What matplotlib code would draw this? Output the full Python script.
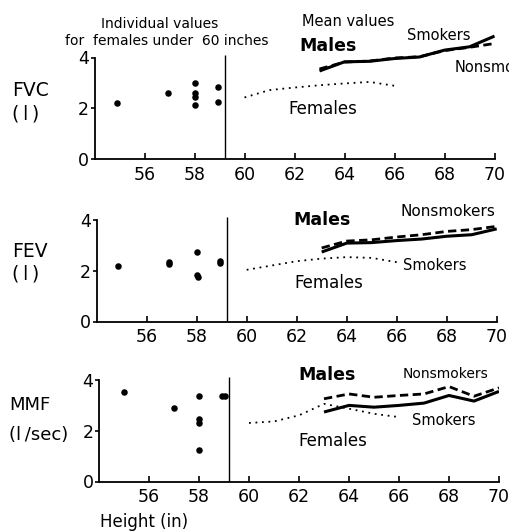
import matplotlib
matplotlib.use("Agg")
import matplotlib.pyplot as plt
from matplotlib.ticker import FixedLocator

# ---------------- data ----------------
x_ticks = [56, 58, 60, 62, 64, 66, 68, 70]
y_ticks = [0, 2, 4]
divider_x = 59.2

# individual values, females under 60 inches
fvc_ind_x = [54.9, 56.95, 58, 58, 58, 58, 58.95, 58.95]
fvc_ind_y = [2.22, 2.59, 2.98, 2.59, 2.46, 2.13, 2.85, 2.24]
fev_ind_x = [54.85, 56.9, 56.9, 58, 58, 58.05, 58.95, 58.95]
fev_ind_y = [2.2, 2.25, 2.32, 2.73, 1.82, 1.76, 2.38, 2.28]
mmf_ind_x = [55.0, 57.0, 58, 58, 58, 58, 58.93, 59.03]
mmf_ind_y = [3.51, 2.9, 3.35, 2.45, 2.3, 1.23, 3.35, 3.35]

# mean values
fem_h = [60, 61, 62, 63, 64, 65, 66]
male_h = [63, 64, 65, 66, 67, 68, 69, 70]

fvc_fem = [2.43, 2.72, 2.82, 2.91, 2.98, 3.04, 2.89]
fvc_male_smk = [3.47, 3.83, 3.85, 3.96, 4.02, 4.29, 4.42, 4.84]
fvc_male_non = [3.55, 3.82, 3.86, 3.98, 4.03, 4.27, 4.40, 4.55]

fev_fem = [2.03, 2.2, 2.37, 2.47, 2.53, 2.5, 2.33]
fev_male_smk = [2.73, 3.08, 3.1, 3.18, 3.24, 3.35, 3.41, 3.64]
fev_male_non = [2.89, 3.16, 3.21, 3.32, 3.41, 3.54, 3.61, 3.74]

mmf_fem = [2.3, 2.36, 2.6, 3.05, 2.86, 2.66, 2.53]
mmf_male_smk = [2.73, 2.99, 2.92, 2.99, 3.08, 3.38, 3.16, 3.54]
mmf_male_non = [3.25, 3.44, 3.31, 3.38, 3.44, 3.73, 3.35, 3.68]

# ---------------- figure ----------------
W, H = 509, 532
fig = plt.figure(figsize=(W / 100, H / 100), dpi=100)
fig.patch.set_facecolor("white")
plt.rcParams["font.family"] = ["DejaVu Sans"]


def fx(px):
    return px / W


def fy(py):
    return 1 - py / H


PXU = 25.45  # pixels per y unit
YTOP = 5.5


def make_ax(left_px, bottom_px):
    width_px = 400
    height_px = YTOP * PXU
    ax = fig.add_axes([fx(left_px), fy(bottom_px), width_px / W, height_px / H])
    ax.set_xlim(54.0, 70.0)
    ax.set_ylim(0, YTOP)
    ax.patch.set_alpha(0)
    for s in ("top", "right"):
        ax.spines[s].set_visible(False)
    ax.spines["left"].set_bounds(0, 4)
    ax.spines["bottom"].set_bounds(54.0, 70.0)
    for s in ("left", "bottom"):
        ax.spines[s].set_linewidth(1.3)
    ax.set_xticks(x_ticks)
    ax.set_yticks(y_ticks)
    ax.tick_params(axis="x", direction="in", length=4, width=1.2, labelsize=12.5, pad=5)
    ax.tick_params(axis="y", direction="out", length=3, width=1.2, labelsize=12.5, pad=1)
    ax.yaxis.set_minor_locator(FixedLocator([4]))
    ax.tick_params(axis="y", which="minor", direction="in", length=4, width=1.2)
    return ax


def draw_panel(ax, ix, iy, fem, smk, non):
    ax.scatter(ix, iy, s=22, color="black", zorder=3, linewidths=0)
    ax.vlines(divider_x, 0, 4.1, color="black", lw=1.0)
    ax.plot(fem_h, fem, color="black", lw=1.3, linestyle=(0, (1, 2.6)))
    ax.plot(male_h, smk, color="black", lw=2.2, solid_capstyle="butt")
    ax.plot(male_h, non, color="black", lw=2.0, linestyle=(0, (3.0, 1.6)))


ax1 = make_ax(94.5, 159.3)
ax2 = make_ax(96.7, 321.5)
ax3 = make_ax(99.0, 481.5)

draw_panel(ax1, fvc_ind_x, fvc_ind_y, fvc_fem, fvc_male_smk, fvc_male_non)
draw_panel(ax2, fev_ind_x, fev_ind_y, fev_fem, fev_male_smk, fev_male_non)
draw_panel(ax3, mmf_ind_x, mmf_ind_y, mmf_fem, mmf_male_smk, mmf_male_non)


def txt(x, y, s, size, ha="left", weight="normal"):
    fig.text(fx(x), fy(y), s, fontsize=size, ha=ha, va="center", weight=weight)


TS = "\u2009"

# panel 1 texts
txt(159.5, 24, "Individual values", 10, ha="center")
txt(65, 41, "for  females under  60 inches", 10)
txt(302, 21.5, "Mean values", 10.5)
txt(299, 46, "Males", 12.5, weight="bold")
txt(407, 36, "Smokers", 10.5)
txt(455, 68, "Nonsmokers", 10.5)
txt(288, 109, "Females", 12)
txt(12, 90, "FVC", 13.5)
txt(12, 113.5, "(" + TS + "l" + TS + ")", 13.5)

# panel 2 texts
txt(293, 220, "Males", 12.5, weight="bold")
txt(400, 211.7, "Nonsmokers", 11)
txt(403, 265, "Smokers", 10.5)
txt(294, 283, "Females", 12)
txt(12, 251.5, "FEV", 13.5)
txt(12, 273.5, "(" + TS + "l" + TS + ")", 13.5)

# panel 3 texts
txt(298, 374.7, "Males", 12.5, weight="bold")
txt(403, 374, "Nonsmokers", 10)
txt(412, 420.5, "Smokers", 10.5)
txt(298, 441.5, "Females", 12)
txt(9, 405.5, "MMF", 13)
txt(9, 435, "(l" + TS + "/sec)", 13)
txt(100, 522, "Height (in)", 12)

fig.savefig("out.png", dpi=100, facecolor="white")
